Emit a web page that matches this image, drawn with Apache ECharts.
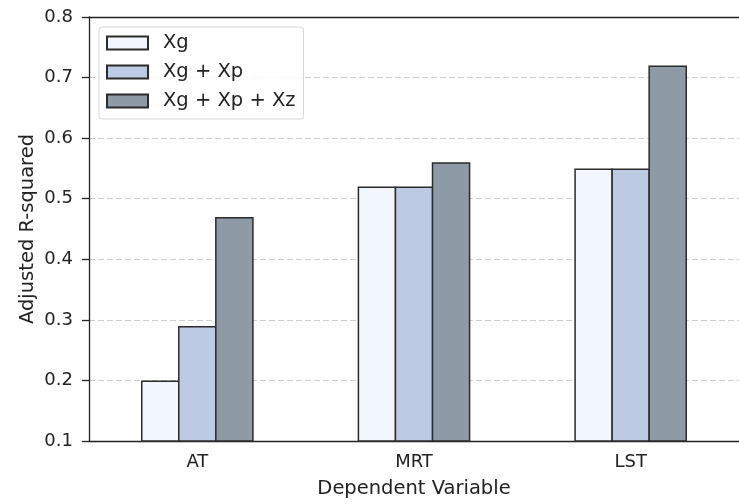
<!DOCTYPE html>
<html>
<head>
<meta charset="utf-8">
<script src="https://cdn.jsdelivr.net/npm/echarts@6/dist/echarts.min.js"></script>
<style>html,body{margin:0;padding:0;background:#fff;}#c{width:739px;height:504px;}</style>
</head>
<body>
<div id="c"></div>
<script>
var categories = ['AT', 'MRT', 'LST'];
var seriesNames = ['Xg', 'Xg + Xp', 'Xg + Xp + Xz'];
var xgValues = [0.20, 0.52, 0.55];
var xgXpValues = [0.29, 0.52, 0.55];
var xgXpXzValues = [0.47, 0.56, 0.72];
var yTicks = [0.1, 0.2, 0.3, 0.4, 0.5, 0.6, 0.7, 0.8];

var colors = ['#f2f6fd', '#bccbe3', '#8e9ba6'];
var font = 'DejaVu Sans';
var chart = echarts.init(document.getElementById('c'), null, {renderer: 'canvas'});

function mk(name, data, color) {
  return {
    name: name, type: 'bar', data: data, barGap: '-4%', barCategoryGap: '48%',
    itemStyle: {color: color, borderColor: '#2b2b2b', borderWidth: 1.5},
    emphasis: {disabled: true}
  };
}

chart.setOption({
  animation: false,
  textStyle: {fontFamily: font},
  grid: {left: 89, top: 17, width: 657, height: 427},
  legend: {
    orient: 'vertical', left: 99, top: 27,
    padding: [6, 8, 8, 7],
    itemWidth: 41, itemHeight: 13, itemGap: 9,
    borderColor: '#d5d5d5', borderWidth: 1, borderRadius: 3,
    backgroundColor: 'rgba(255,255,255,0.85)',
    textStyle: {fontSize: 19.5, lineHeight: 20, color: '#222', fontFamily: font, padding: [0, 0, 0, 10]},
    data: seriesNames.map(function (n) { return {name: n, icon: 'rect'}; })
  },
  xAxis: [{
    type: 'category', data: categories,
    name: 'Dependent Variable', nameLocation: 'middle', nameGap: 38, nameMoveOverlap: false,
    nameTextStyle: {fontSize: 19.5, color: '#222', fontFamily: font},
    axisLine: {lineStyle: {color: '#222', width: 1.3}},
    axisTick: {alignWithLabel: true, length: 7, lineStyle: {color: '#222', width: 1.3}},
    axisLabel: {fontSize: 18, color: '#222', margin: 12, fontFamily: font},
    splitLine: {show: false}
  }, {
    type: 'category', data: categories, position: 'top', z: 10,
    axisLine: {show: true, lineStyle: {color: '#222', width: 1.3}},
    axisTick: {show: false}, axisLabel: {show: false}, splitLine: {show: false}
  }],
  yAxis: {
    type: 'value', min: yTicks[0], max: yTicks[yTicks.length - 1], interval: 0.1,
    name: 'Adjusted R-squared', nameLocation: 'middle', nameGap: 51, nameMoveOverlap: false,
    nameTextStyle: {fontSize: 19.5, color: '#222', fontFamily: font},
    axisLine: {show: true, lineStyle: {color: '#222', width: 1.3}},
    axisTick: {show: true, length: 7, lineStyle: {color: '#222', width: 1.3}},
    axisLabel: {fontSize: 18, color: '#222', margin: 16, fontFamily: font,
      formatter: function (v) { return v.toFixed(1); }},
    splitLine: {show: true, lineStyle: {color: '#cfcfcf', type: [6, 3], width: 1.2}}
  },
  series: [
    mk(seriesNames[0], xgValues, colors[0]),
    mk(seriesNames[1], xgXpValues, colors[1]),
    mk(seriesNames[2], xgXpXzValues, colors[2])
  ]
});
</script>
</body>
</html>
